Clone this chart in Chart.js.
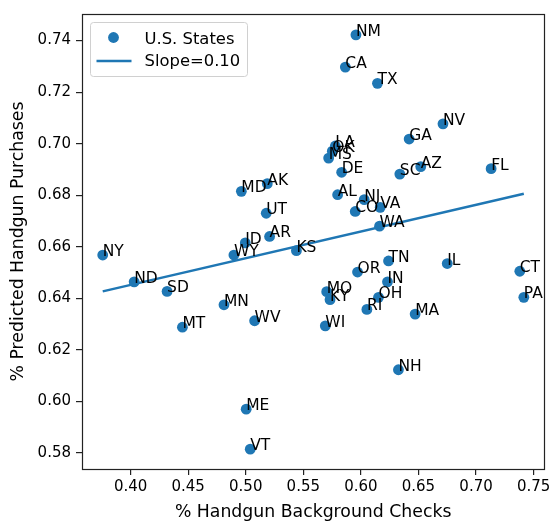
<!DOCTYPE html>
<html>
<head>
<meta charset="utf-8">
<script src="https://cdn.jsdelivr.net/npm/chart.js@4"></script>
<style>
  body { margin: 0; background: #fff; }
</style>
</head>
<body>
<canvas id="chart" width="554" height="523"></canvas>
<script>
// state codes and values
const states = ['NY', 'ND', 'SD', 'MT', 'MN', 'WY', 'ID', 'MD', 'ME', 'VT', 'WV', 'UT', 'AK', 'AR', 'KS',
  'WI', 'MO', 'MS', 'KY', 'OK', 'LA', 'AL', 'DE', 'CA', 'CO', 'NM', 'OR', 'NJ', 'RI', 'OH', 'WA', 'VA',
  'TX', 'IN', 'TN', 'NH', 'SC', 'GA', 'MA', 'AZ', 'NV', 'IL', 'FL', 'CT', 'PA'];
const checks = [0.3758, 0.4031, 0.4317, 0.4450, 0.4811, 0.4897, 0.4996, 0.4962, 0.5004, 0.5039, 0.5077, 0.5178, 0.5187, 0.5207, 0.5440,
  0.5691, 0.5703, 0.5720, 0.5732, 0.5752, 0.5778, 0.5798, 0.5833, 0.5865, 0.5951, 0.5957, 0.5971, 0.6029, 0.6052, 0.6153, 0.6162, 0.6168,
  0.6144, 0.6231, 0.6240, 0.6326, 0.6338, 0.6419, 0.6471, 0.6520, 0.6713, 0.6750, 0.7131, 0.7380, 0.7415];
const predicted = [0.6568, 0.6464, 0.6427, 0.6288, 0.6375, 0.6568, 0.6615, 0.6815, 0.5970, 0.5815, 0.6313, 0.6730, 0.6845, 0.6640, 0.6585,
  0.6293, 0.6426, 0.6944, 0.6395, 0.6971, 0.6991, 0.6802, 0.6889, 0.7297, 0.6737, 0.7422, 0.6502, 0.6783, 0.6357, 0.6404, 0.6680, 0.6753,
  0.7234, 0.6464, 0.6545, 0.6123, 0.6882, 0.7018, 0.6339, 0.6911, 0.7077, 0.6535, 0.6903, 0.6505, 0.6404];

// fitted line endpoints
const fitX = [0.3758, 0.7415];
const fitY = [0.6427, 0.6806];

const xTicks = [0.40, 0.45, 0.50, 0.55, 0.60, 0.65, 0.70, 0.75];
const yTicks = [0.58, 0.60, 0.62, 0.64, 0.66, 0.68, 0.70, 0.72, 0.74];

const blue = '#1f77b4';
const font = 'DejaVu Sans';

// state names next to each point, plus the axes box
const labelPlugin = {
  id: 'stateLabels',
  afterDatasetsDraw(chart) {
    const ctx = chart.ctx;
    const meta = chart.getDatasetMeta(1);
    ctx.save();
    ctx.font = '15.5px "' + font + '"';
    ctx.fillStyle = '#000';
    ctx.textAlign = 'left';
    ctx.textBaseline = 'alphabetic';
    meta.data.forEach((pt, i) => {
      ctx.fillText(states[i], pt.x, pt.y + 1);
    });
    const a = chart.chartArea;
    ctx.strokeStyle = '#222';
    ctx.lineWidth = 1.2;
    ctx.strokeRect(Math.round(a.left) + 0.5, Math.round(a.top) + 0.5,
      Math.round(a.right - a.left), Math.round(a.bottom - a.top));
    ctx.restore();
  }
};

const legendPlugin = {
  id: 'boxLegend',
  afterDraw(chart) {
    const ctx = chart.ctx;
    const a = chart.chartArea;
    const x0 = a.left + 8.5, y0 = a.top + 8.5, w = 157, h = 54;
    ctx.save();
    ctx.beginPath();
    ctx.roundRect(x0, y0, w, h, 3);
    ctx.fillStyle = 'rgba(255,255,255,0.8)';
    ctx.fill();
    ctx.strokeStyle = '#d0d0d0';
    ctx.lineWidth = 1;
    ctx.stroke();

    const pts = chart.data.datasets[1];
    const fit = chart.data.datasets[0];
    ctx.fillStyle = pts.backgroundColor;
    ctx.beginPath();
    ctx.arc(x0 + 23, y0 + 15, 5.4, 0, Math.PI * 2);
    ctx.fill();
    ctx.strokeStyle = fit.borderColor;
    ctx.lineWidth = 2.5;
    ctx.beginPath();
    ctx.moveTo(x0 + 6, y0 + 38.5);
    ctx.lineTo(x0 + 41, y0 + 38.5);
    ctx.stroke();

    ctx.fillStyle = '#000';
    ctx.font = '16.4px "' + font + '"';
    ctx.textBaseline = 'alphabetic';
    ctx.fillText(pts.label, x0 + 54, y0 + 21);
    ctx.fillText(fit.label, x0 + 54, y0 + 43);
    ctx.restore();
  }
};

new Chart(document.getElementById('chart'), {
  type: 'scatter',
  data: {
    datasets: [
      {
        type: 'line',
        label: 'Slope=0.10',
        data: fitX.map((x, i) => ({ x: x, y: fitY[i] })),
        borderColor: blue,
        borderWidth: 2.5,
        pointRadius: 0,
        fill: false,
        order: 0
      },
      {
        label: 'U.S. States',
        data: checks.map((x, i) => ({ x: x, y: predicted[i] })),
        backgroundColor: blue,
        borderWidth: 0,
        pointRadius: 5.4,
        order: 1
      }
    ]
  },
  options: {
    responsive: false,
    animation: false,
    devicePixelRatio: 1,
    layout: { padding: { top: 8, right: 8, left: 0, bottom: 0 } },
    plugins: {
      legend: { display: false },
      tooltip: { enabled: false }
    },
    scales: {
      x: {
        type: 'linear',
        min: 0.3578,
        max: 0.7593,
        afterBuildTicks: s => { s.ticks = xTicks.map(v => ({ value: v })); },
        afterFit: s => { s.height = 54; },
        ticks: {
          callback: v => v.toFixed(2),
          font: { family: font, size: 15 },
          color: '#000',
          padding: 3.5,
          maxRotation: 0,
          autoSkip: false
        },
        grid: { display: true, drawOnChartArea: false, drawTicks: true, tickLength: 6, tickColor: '#222', lineWidth: 1.2 },
        border: { display: false },
        title: {
          display: true,
          text: '% Handgun Background Checks',
          font: { family: font, size: 17.3 },
          color: '#000',
          padding: { top: 0, bottom: 0 }
        }
      },
      y: {
        type: 'linear',
        min: 0.5738,
        max: 0.7503,
        afterBuildTicks: s => { s.ticks = yTicks.map(v => ({ value: v })); },
        afterFit: s => { s.width = 82; },
        ticks: {
          callback: v => v.toFixed(2),
          font: { family: font, size: 15 },
          color: '#000',
          padding: 5,
          autoSkip: false
        },
        grid: { display: true, drawOnChartArea: false, drawTicks: true, tickLength: 6, tickColor: '#222', lineWidth: 1.2 },
        border: { display: false },
        title: {
          display: true,
          text: '% Predicted Handgun Purchases',
          font: { family: font, size: 17.3 },
          color: '#000',
          padding: { top: 8, bottom: 0 }
        }
      }
    }
  },
  plugins: [labelPlugin, legendPlugin]
});
</script>
</body>
</html>
